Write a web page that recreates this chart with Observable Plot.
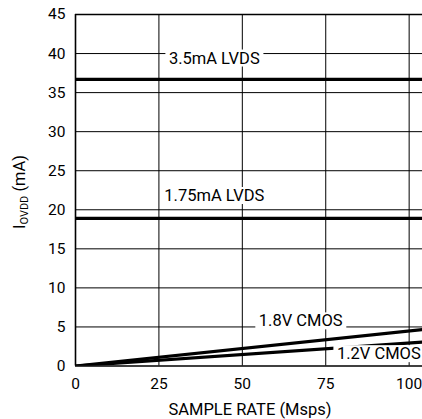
<!DOCTYPE html>
<html><head><meta charset="utf-8">
<style>
  html,body{margin:0;padding:0;background:#fff;}
  #chart svg{display:block;}
</style>
<script src="https://cdn.jsdelivr.net/npm/d3@7"></script>
<script src="https://cdn.jsdelivr.net/npm/@observablehq/plot@0.6"></script>
</head><body><div id="chart"></div>
<script>
// Sample rate (Msps) endpoints of each curve
const sampleRate = [0, 105];
// I_OVDD (mA) for each configuration
const lvds35 = [36.7, 36.7];
const lvds175 = [18.9, 18.9];
const cmos18 = [0, 4.72];
const cmos12 = [0, 3.1];
const seriesNames = ["3.5mA LVDS", "1.75mA LVDS", "1.8V CMOS", "1.2V CMOS"];
// label anchor positions in data units
const labelX = [41.6, 41.6, 67.5, 90.9];
const labelY = [39.4, 21.8, 5.75, 1.55];
const xTicks = [0, 25, 50, 75, 100];
const yTicks = [0, 5, 10, 15, 20, 25, 30, 35, 40, 45];
const xTitle = "SAMPLE RATE (Msps)";
const yTitleMain = "I", yTitleSub = "OVDD", yTitleUnit = " (mA)";

const seriesValues = [lvds35, lvds175, cmos18, cmos12];
const rows = seriesValues.flatMap((vals, i) =>
  vals.map((v, j) => ({series: seriesNames[i], x: sampleRate[j], y: v})));
const labels = seriesNames.map((n, i) => ({text: n, x: labelX[i], y: labelY[i]}));

const FONT = "Roboto, 'Liberation Sans', sans-serif";

const plot = Plot.plot({
  width: 422,
  height: 419,
  marginLeft: 75,
  marginRight: 0,
  marginTop: 14,
  marginBottom: 53.5,
  style: {fontFamily: FONT, fontSize: "15.5px", color: "#000", background: "#fff"},
  x: {domain: [0, 104]},
  y: {domain: [0, 45]},
  marks: [
    Plot.gridX(xTicks.slice(1), {stroke: "#000", strokeOpacity: 1, strokeWidth: 1}),
    Plot.gridY(yTicks.slice(1, -1), {stroke: "#000", strokeOpacity: 1, strokeWidth: 1}),
    Plot.ruleY([yTicks[0], yTicks[yTicks.length - 1]], {stroke: "#000", strokeWidth: 1.6}),
    Plot.ruleX([xTicks[0]], {stroke: "#000", strokeWidth: 1.6}),
    Plot.line(rows, {x: "x", y: "y", z: "series", stroke: "#000", strokeWidth: 3.2, clip: true}),
    Plot.text(labels, {x: "x", y: "y", text: "text", fontSize: 16.5, fill: "#000", className: "lbl"}),
    Plot.axisX(xTicks, {tickSize: 0, tickPadding: 12, label: null, fontSize: 15.5}),
    Plot.axisY(yTicks, {tickSize: 0, tickPadding: 10, label: null, fontSize: 15.5})
  ]
});
document.getElementById("chart").appendChild(plot);

// white boxes behind the curve labels
plot.querySelectorAll("g.lbl text").forEach(t => {
  const b = t.getBBox();
  const r = document.createElementNS("http://www.w3.org/2000/svg", "rect");
  r.setAttribute("x", b.x - 3.5);
  r.setAttribute("y", b.y + 1);
  r.setAttribute("width", b.width + 7);
  r.setAttribute("height", b.height - 2);
  r.setAttribute("fill", "#fff");
  const tr = t.getAttribute("transform");
  if (tr) r.setAttribute("transform", tr);
  t.parentNode.insertBefore(r, t);
});

const svg = d3.select(plot);
svg.append("text")
  .attr("x", 250).attr("y", 415)
  .attr("text-anchor", "middle")
  .attr("font-family", FONT).attr("font-size", 16.5).attr("fill", "#000")
  .text(xTitle);
const yt = svg.append("text")
  .attr("transform", "translate(24.5,192) rotate(-90)")
  .attr("text-anchor", "middle")
  .attr("font-family", FONT).attr("font-size", 16.5).attr("fill", "#000");
yt.append("tspan").text(yTitleMain);
yt.append("tspan").attr("dy", 3.5).attr("font-size", 11).text(yTitleSub);
yt.append("tspan").attr("dy", -3.5).text(yTitleUnit);
</script>
</body></html>
